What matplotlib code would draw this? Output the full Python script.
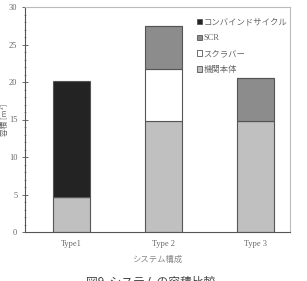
import matplotlib.pyplot as plt
from matplotlib.patches import Rectangle
from matplotlib.ticker import MultipleLocator

plt.rcParams['font.family'] = ['Liberation Serif', 'Noto Sans CJK JP']

# Data
types = ['Type1', 'Type 2', 'Type 3']
engine = [4.7, 14.8, 14.8]        # 機関本体
scrubber = [0.0, 6.9, 0.0]        # スクラバー
scr = [0.0, 5.8, 5.8]             # SCR
combined = [15.4, 0.0, 0.0]       # コンバインドサイクル

labels = ['コンバインドサイクル', 'SCR', 'スクラバー', '機関本体']
colors = ['#232323', '#8c8c8c', '#ffffff', '#c0c0c0']

fig = plt.figure(figsize=(3.07, 2.81), dpi=100)
ax = fig.add_axes([25 / 307, 1 - 232 / 281, 265 / 307, 225 / 281])

x = list(range(len(types)))
w = 0.4
edge = '#555555'
bottom = [0.0] * len(types)
for vals, col in [(engine, colors[3]), (scrubber, colors[2]), (scr, colors[1]), (combined, colors[0])]:
    ax.bar(x, vals, w, bottom=bottom, color=col, edgecolor=edge, linewidth=0.8)
    bottom = [b + v for b, v in zip(bottom, vals)]

ax.set_xlim(-0.505, 2.375)
ax.set_ylim(0, 30)
ax.yaxis.set_major_locator(MultipleLocator(5))
ax.yaxis.set_minor_locator(MultipleLocator(1))
ax.set_xticks(x)
ax.set_xticklabels(types, fontsize=6, color='#666666')
ax.tick_params(axis='y', which='major', direction='inout', length=4, labelsize=6,
               labelcolor='#666666', color='#555555', width=0.6)
ax.tick_params(axis='y', which='minor', direction='inout', length=2, color='#777777', width=0.5)
ax.tick_params(axis='x', length=0, pad=6)

for s in ['top', 'right']:
    ax.spines[s].set_color('#bbbbbb')
    ax.spines[s].set_linewidth(0.8)
for s in ['left', 'bottom']:
    ax.spines[s].set_color('#555555')
    ax.spines[s].set_linewidth(0.8)

ax.set_ylabel('容積 [m³]', fontsize=5.5, color='#666666',
              family=['Noto Sans CJK JP', 'DejaVu Sans'])
ax.yaxis.set_label_coords(-0.061, 0.5)
ax.set_xlabel('システム構成', fontsize=6, color='#888888',
              family=['Noto Sans CJK JP', 'DejaVu Sans'], labelpad=5)

handles = [Rectangle((0, 0), 1, 1, facecolor=c, edgecolor='#555555', linewidth=0.6) for c in colors]
leg = ax.legend(handles, labels, loc='upper left', bbox_to_anchor=(0.635, 0.965),
                frameon=False, fontsize=6, handlelength=0.6, handleheight=0.6,
                handletextpad=0.2, labelspacing=0.95, borderaxespad=0)
for t in leg.get_texts():
    t.set_color('#666666')
    t.set_family(['Liberation Serif', 'Noto Sans CJK JP'])

fig.text(0.49, 1 - 282 / 281, '図9  システムの容積比較', ha='center', va='center',
         fontsize=8.5, color='#444444', family=['Noto Sans CJK JP', 'DejaVu Sans'])

fig.savefig('out.png', dpi=100)
